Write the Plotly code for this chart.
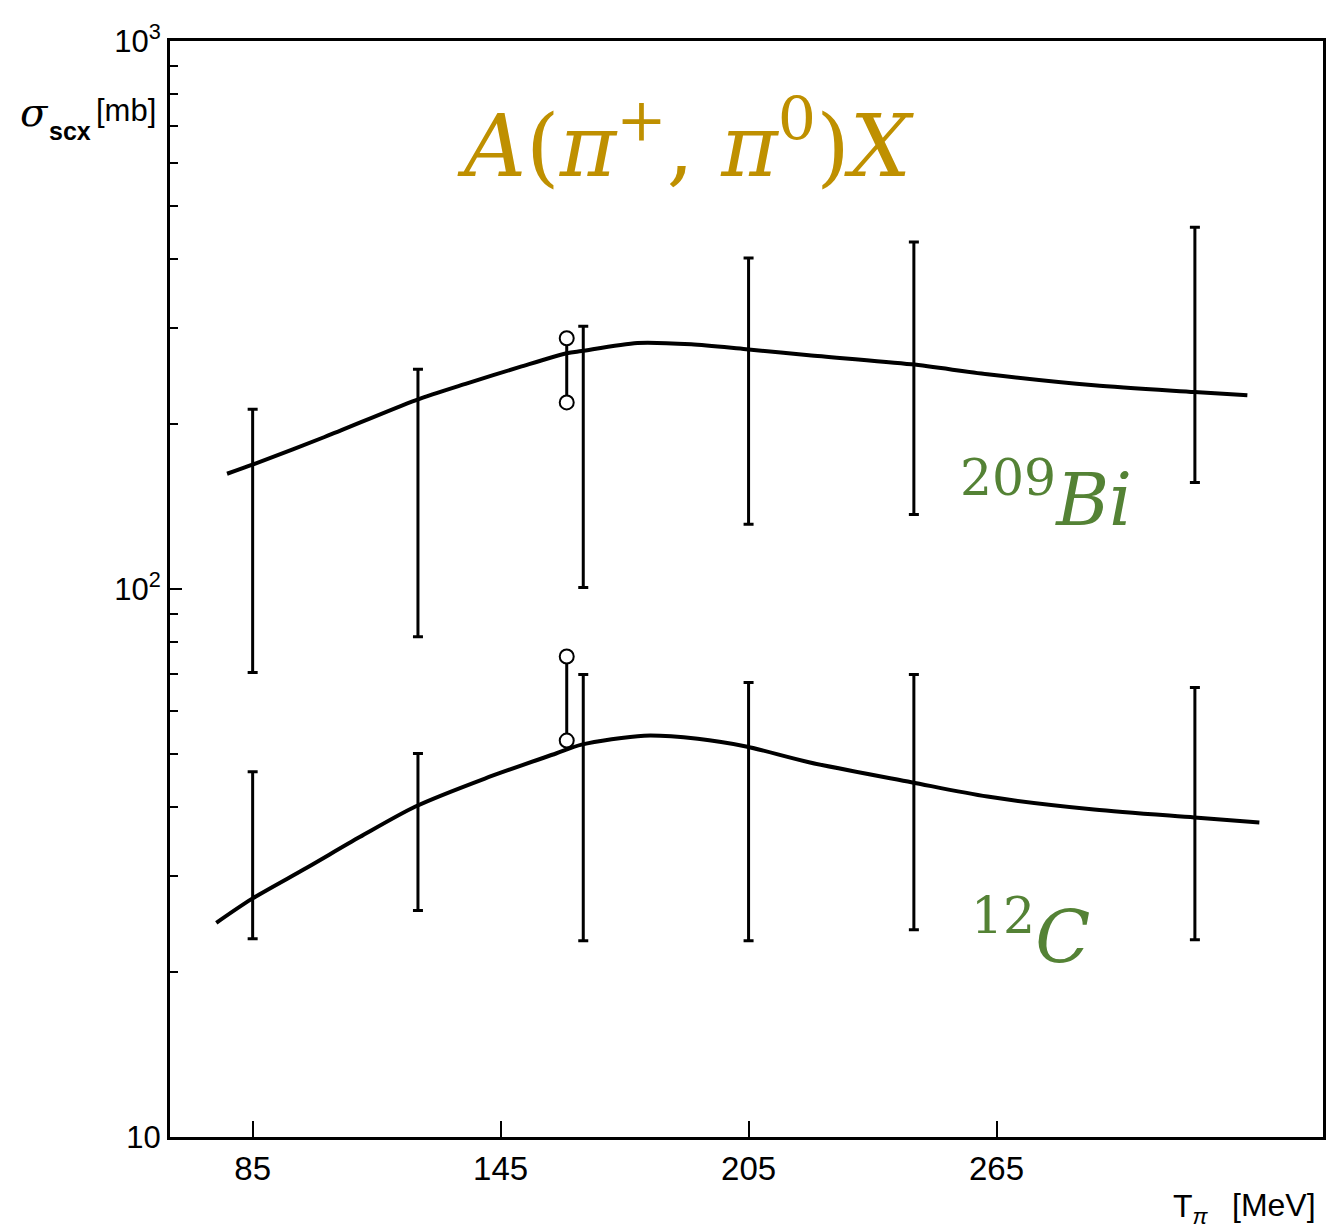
import numpy as np
import plotly.graph_objects as go

# ---------------- data ----------------
energies = [85, 125, 165, 205, 245, 313]          # T_pi [MeV] of error bars
bi_low = [70.4, 81.8, 100.6, 131.2, 136.8, 156.5]
bi_high = [212.9, 251.9, 301.5, 401.6, 429.6, 457.1]
c_low = [23.0, 25.9, 22.8, 22.8, 23.9, 22.9]
c_high = [46.4, 50.1, 69.8, 67.5, 69.8, 66.1]

circ_x = [161, 161]
bi_circ = [286.8, 219.0]
c_circ = [75.3, 52.9]

bi_curve_x = [78.8, 85.1, 102.4, 124.4, 136.9, 149.7, 161.0, 164.6, 178.1, 191.1,
              204.4, 219.6, 244.4, 262.8, 288.6, 312.9, 325.7]
bi_curve_y = [162.3, 168.8, 189.4, 221.0, 237.3, 254.2, 269.2, 271.8, 281.2, 279.6,
              273.8, 267.0, 257.0, 246.5, 235.3, 228.8, 225.6]
c_curve_x = [76.2, 84.8, 98.1, 111.0, 124.4, 141.2, 158.4, 164.6, 179.7, 192.7, 204.4,
             219.6, 244.4, 262.8, 288.6, 312.9, 328.6]
c_curve_y = [24.6, 27.2, 31.0, 35.3, 40.1, 45.1, 50.1, 52.0, 54.0, 53.3, 51.6,
             48.3, 44.4, 41.8, 39.6, 38.3, 37.5]

x_ticks = [85, 145, 205, 265]
y_ticks = [10, 100, 1000]
y_ticktext = ["10", "10<sup>2</sup>", "10<sup>3</sup>"]
y_minor = [v * m for v in (10, 100) for m in range(2, 10)]

# ---------------- figure ----------------
fig = go.Figure()

def add_bars(lo, hi):
    lo = np.array(lo); hi = np.array(hi)
    mid = np.sqrt(lo * hi)
    fig.add_trace(go.Scatter(
        x=energies, y=mid, mode="markers",
        marker=dict(size=1, color="rgba(0,0,0,0)"),
        error_y=dict(type="data", symmetric=False, array=hi - mid,
                     arrayminus=mid - lo, color="black", thickness=3, width=5),
        showlegend=False, hoverinfo="skip"))

add_bars(bi_low, bi_high)
add_bars(c_low, c_high)

for cx, cy in ((bi_curve_x, bi_curve_y), (c_curve_x, c_curve_y)):
    fig.add_trace(go.Scatter(x=cx, y=cy, mode="lines",
                             line=dict(color="black", width=4, shape="spline", smoothing=0.8),
                             showlegend=False, hoverinfo="skip"))

for cy in (bi_circ, c_circ):
    fig.add_trace(go.Scatter(x=circ_x, y=cy, mode="lines+markers",
                             line=dict(color="black", width=3),
                             marker=dict(symbol="circle", size=14, color="white",
                                         line=dict(color="black", width=2)),
                             showlegend=False, hoverinfo="skip"))

# pixel -> paper helpers for text placement
L, R, T, B = 170, 1326, 41, 1137
def px(x): return (x - L) / (R - L)
def py(y): return (B - y) / (B - T)

ann = []
ann.append(dict(text="<i>A</i>(<i>π</i><sup>+</sup>, <i>π</i><sup>0</sup>)<i>X</i>",
                x=px(687), y=py(140), font=dict(family="DejaVu Serif", size=86, color="#BF9000")))
ann.append(dict(text="<sup>209</sup><i>Bi</i>", x=px(1048), y=py(495),
                font=dict(family="DejaVu Serif", size=72, color="#548235")))
ann.append(dict(text="<sup>12</sup><i>C</i>", x=px(1033), y=py(933),
                font=dict(family="DejaVu Serif", size=72, color="#548235")))
ann.append(dict(text="<i>σ</i>", x=px(34), y=py(112),
                font=dict(family="DejaVu Serif", size=40, color="black")))
ann.append(dict(text="<b>scx</b>", x=px(70), y=py(131),
                font=dict(family="Liberation Sans", size=25, color="black")))
ann.append(dict(text="[mb]", x=px(126), y=py(110),
                font=dict(family="Liberation Sans", size=31, color="black")))
ann.append(dict(text="T<sub><i>π</i></sub>", x=px(1194), y=py(1208),
                font=dict(family="Liberation Sans", size=32, color="black")))
ann.append(dict(text="[MeV]", x=px(1277), y=py(1205),
                font=dict(family="Liberation Sans", size=32, color="black")))
for a in ann:
    a.update(xref="paper", yref="paper", showarrow=False, xanchor="center", yanchor="middle")

fig.update_layout(
    width=1332, height=1232,
    margin=dict(l=L, r=1332 - R, t=T, b=1232 - B, pad=0),
    paper_bgcolor="white", plot_bgcolor="white",
    annotations=ann,
    xaxis=dict(range=[65, 344], tickvals=x_ticks, ticks="inside", ticklen=16,
               tickwidth=2, tickcolor="black", showline=True, linecolor="black",
               linewidth=3, mirror=True, showgrid=False, zeroline=False,
               tickfont=dict(family="Liberation Sans", size=33, color="black")),
    yaxis=dict(type="log", range=[1, 3], tickvals=y_ticks, ticktext=y_ticktext,
               ticks="inside", ticklen=12, tickwidth=2, tickcolor="black",
               showline=True, linecolor="black", linewidth=3, mirror=True,
               showgrid=False, zeroline=False,
               tickfont=dict(family="Liberation Sans", size=31, color="black"),
               minor=dict(tickvals=y_minor, ticks="inside", ticklen=8,
                          tickwidth=2, tickcolor="black", showgrid=False)),
)

fig.write_html("out.html")
